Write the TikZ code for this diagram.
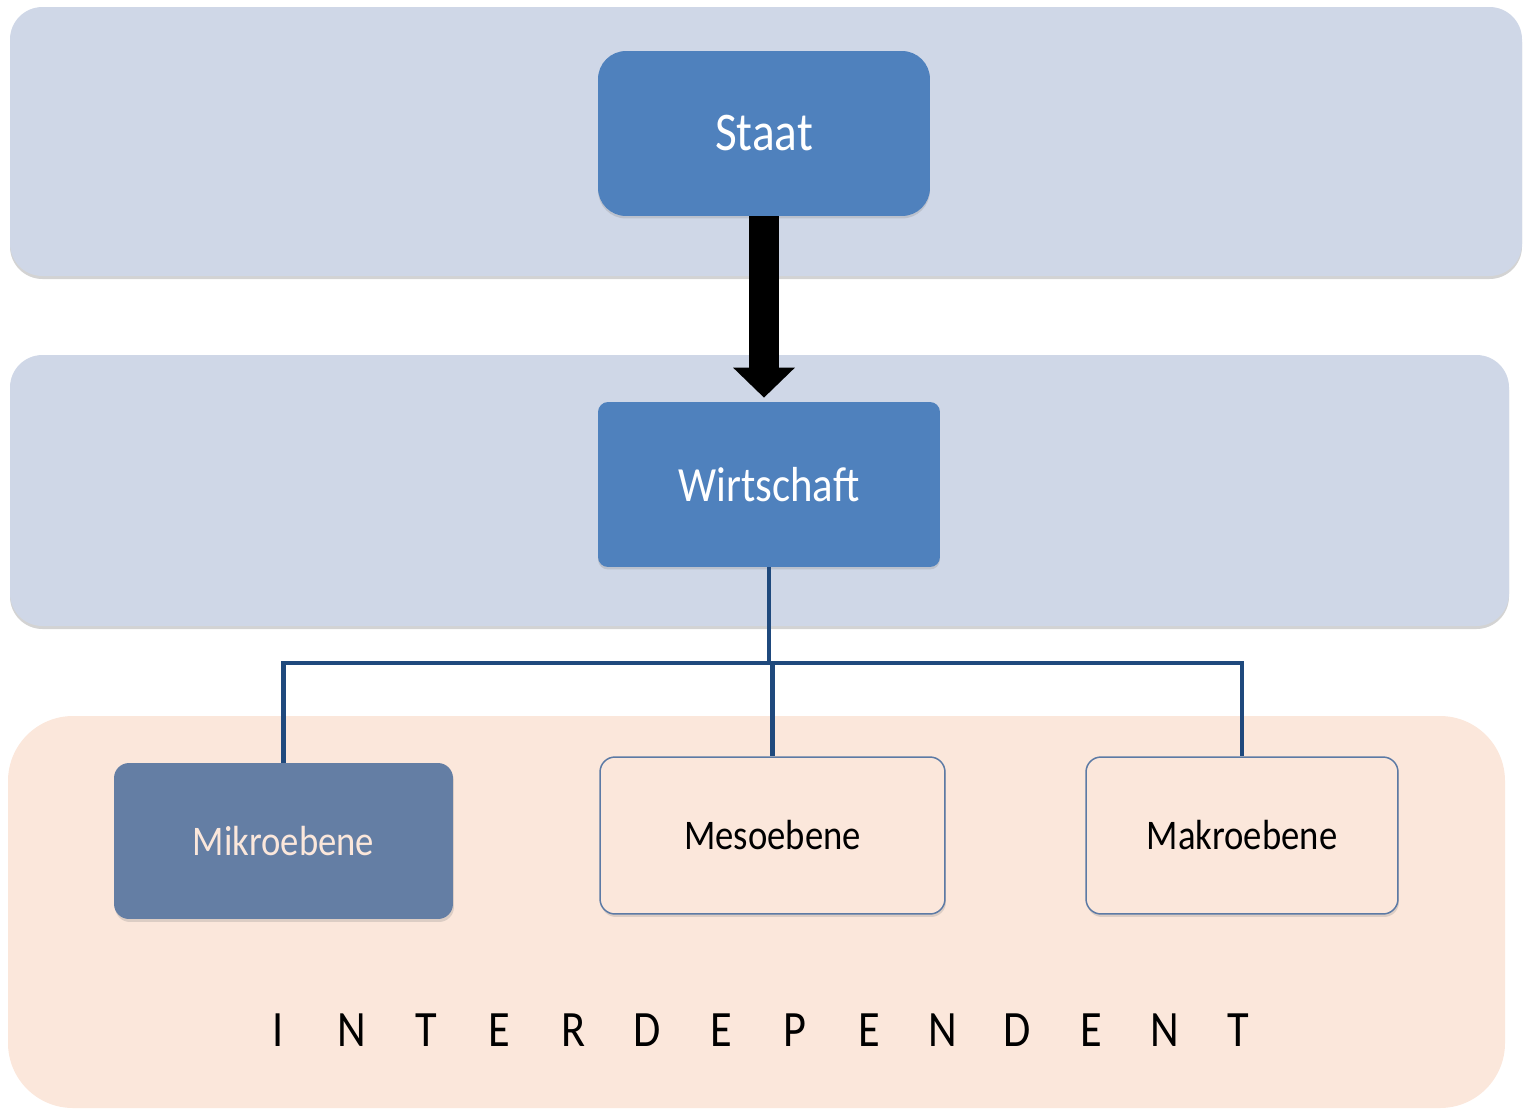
\documentclass[tikz,border=0pt]{standalone}
\usepackage{fontspec}
\setmainfont{Carlito}[FakeStretch=0.87]
\usetikzlibrary{arrows.meta,shadows}
\definecolor{bandblue}{HTML}{CFD7E7}
\definecolor{bandpeach}{HTML}{FBE7DB}
\definecolor{boxblue}{HTML}{4F81BD}
\definecolor{mikroblue}{HTML}{647EA4}
\definecolor{rimblue}{HTML}{5C7AA5}
\definecolor{linkblue}{HTML}{1F497D}
\tikzset{
  band/.style={rounded corners=0.65cm, drop shadow={shadow xshift=0pt, shadow yshift=-0.06cm, opacity=0.35}},
  topbox/.style={fill=boxblue, text=white, minimum height=3.3cm, drop shadow={shadow xshift=0pt, shadow yshift=-0.05cm, opacity=0.25}},
  levelbox/.style={minimum width=6.9cm, minimum height=3.14cm, rounded corners=0.3cm, font=\fontsize{24}{28}\selectfont,
    drop shadow={shadow xshift=0.02cm, shadow yshift=-0.06cm, opacity=0.25}},
  link/.style={draw=linkblue, line width=0.09cm},
}
\begin{document}
\begin{tikzpicture}[x=0.02cm, y=-0.02cm]
  \useasboundingbox (0,0) rectangle (1525,1109);
  % bands
  \fill[bandblue, band] (10,7) rectangle (1522,276);
  \fill[bandblue, band] (10,355) rectangle (1509,626);
  \fill[bandpeach, rounded corners=1.3cm] (8,716) rectangle (1505,1108);

  \node[topbox, minimum width=6.64cm, rounded corners=0.56cm, font=\fontsize{31}{36}\selectfont] (staat) at (764,133.5) {Staat};
  \node[topbox, minimum width=6.84cm, rounded corners=0.2cm, font=\fontsize{28}{32}\selectfont] (wirt) at (769,484.5) {Wirtschaft};

  \node[levelbox, fill=mikroblue, text=bandpeach, minimum width=6.78cm, minimum height=3.12cm] (mikro) at (283.5,841) {Mikroebene};
  \node[levelbox, fill=bandpeach, draw=rimblue, line width=0.03cm] (meso) at (772.5,835.5) {Mesoebene};
  \node[levelbox, fill=bandpeach, draw=rimblue, line width=0.03cm, minimum width=6.24cm] (makro) at (1242,835.5) {Makroebene};

  \draw[line width=0.6cm, -{Triangle[width=1.2cm,length=0.6cm]}, shorten >=0.08cm] (staat.south) -- (staat.south |- wirt.north);

  \coordinate (hub) at (769,663);
  \draw[link] (wirt.south) -- (hub);
  \draw[link] (hub) -| (mikro.north);
  \draw[link] (hub) -| (meso.north);
  \draw[link] (hub) -| (makro.north);

  \foreach \l [count=\i] in {I,N,T,E,R,D,E,P,E,N,D,E,N,T}
    \node[font=\fontsize{29}{34}\selectfont] (l\i) at ({278+(\i-1)*73.9},1030) {\l};
\end{tikzpicture}
\end{document}
